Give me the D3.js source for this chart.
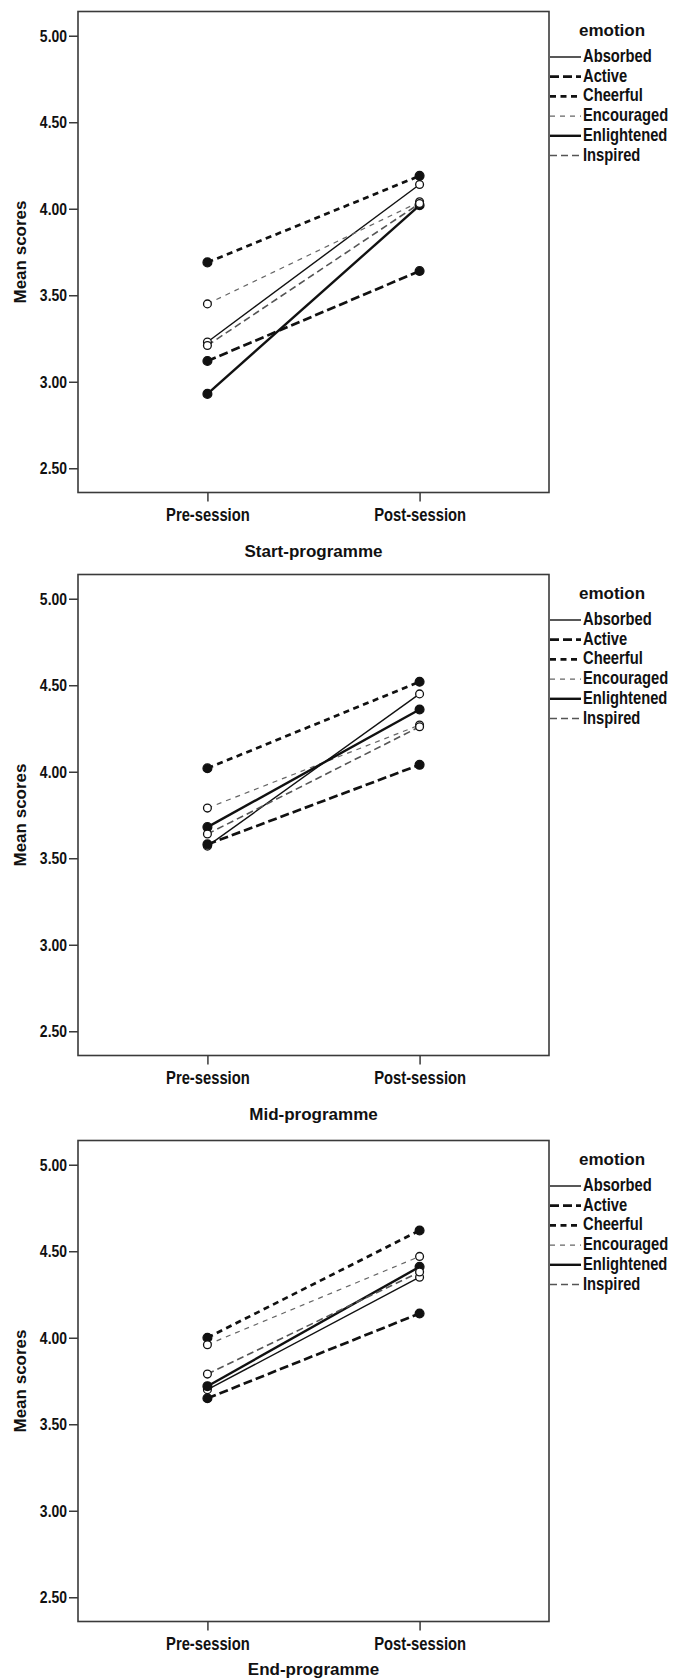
<!DOCTYPE html>
<html>
<head>
<meta charset="utf-8">
<script src="https://cdn.jsdelivr.net/npm/d3@7"></script>
<style>
  body { margin: 0; background: #fff; }
  .narrow { font-family: 'Liberation Sans', Arial, sans-serif; font-weight: bold; }
  .title { font-family: 'Liberation Sans', Arial, sans-serif; font-weight: bold; }
</style>
</head>
<body>
<svg id="chart"></svg>
<script>
const emotions = ['Absorbed', 'Active', 'Cheerful', 'Encouraged', 'Enlightened', 'Inspired'];
const sessions = ['Pre-session', 'Post-session'];
const programmes = ['Start-programme', 'Mid-programme', 'End-programme'];
const yTicks = [2.5, 3.0, 3.5, 4.0, 4.5, 5.0];

// mean scores per emotion, same order as emotions
const startPre  = [3.23, 3.12, 3.69, 3.45, 2.93, 3.21];
const startPost = [4.14, 3.64, 4.19, 4.04, 4.02, 4.03];
const midPre    = [3.57, 3.58, 4.02, 3.79, 3.68, 3.64];
const midPost   = [4.45, 4.04, 4.52, 4.27, 4.36, 4.26];
const endPre    = [3.70, 3.65, 4.00, 3.96, 3.72, 3.79];
const endPost   = [4.35, 4.14, 4.62, 4.47, 4.41, 4.38];

const panelData = [
  [startPre, startPost],
  [midPre, midPost],
  [endPre, endPost]
];

// line style per emotion (SPSS-like)
const styles = {
  Absorbed:    { width: 1.4, dash: null,    color: '#111', filled: false },
  Active:      { width: 2.7, dash: '9,4',   color: '#111', filled: true },
  Cheerful:    { width: 2.7, dash: '6,4.5', color: '#111', filled: true },
  Encouraged:  { width: 1.2, dash: '5,5',   color: '#666', filled: false },
  Enlightened: { width: 2.4, dash: null,    color: '#111', filled: true },
  Inspired:    { width: 1.6, dash: '7,4',   color: '#555', filled: false }
};

const W = 677, H = 1679;
const left = 78, plotW = 471, plotH = 481;
const panelTops = [11.5, 574.5, 1140.5];
const titleGap = [64, 64, 53]; // last panel's title squeezed in at the page bottom

const svg = d3.select('#chart').attr('width', W).attr('height', H);

const x = d3.scalePoint().domain(sessions).range([0, plotW]).padding(0.61);
const y = d3.scaleLinear().domain([2.36, 5.14]).range([plotH, 0]);

// squeeze bold text horizontally to look like a narrow face
function condense(sel, size) {
  sel.attr('class', 'narrow').style('font-size', size + 'px').attr('fill', '#111');
  sel.each(function () {
    const w = this.getComputedTextLength();
    d3.select(this).attr('textLength', w * 0.82).attr('lengthAdjust', 'spacingAndGlyphs');
  });
}

panelData.forEach((pair, p) => {
  const g = svg.append('g').attr('transform', `translate(${left},${panelTops[p]})`);

  // frame
  g.append('rect')
    .attr('width', plotW).attr('height', plotH)
    .attr('fill', 'none').attr('stroke', '#3a3a3a').attr('stroke-width', 1.6);

  // y axis
  const yAxis = g.append('g')
    .call(d3.axisLeft(y).tickValues(yTicks).tickFormat(d3.format('.2f')).tickSize(9).tickPadding(2));
  yAxis.select('.domain').remove();
  yAxis.selectAll('line').attr('stroke', '#3a3a3a').attr('stroke-width', 1.5);
  condense(yAxis.selectAll('text'), 17);

  // x axis
  const xAxis = g.append('g')
    .attr('transform', `translate(0,${plotH})`)
    .call(d3.axisBottom(x).tickSize(9).tickPadding(7));
  xAxis.select('.domain').remove();
  xAxis.selectAll('line').attr('stroke', '#3a3a3a').attr('stroke-width', 1.5);
  condense(xAxis.selectAll('text'), 18);

  // axis titles
  g.append('text')
    .attr('class', 'title')
    .attr('x', plotW / 2).attr('y', plotH + titleGap[p])
    .attr('text-anchor', 'middle')
    .style('font-size', '17px').attr('fill', '#111')
    .text(programmes[p]);

  g.append('text')
    .attr('class', 'title')
    .attr('transform', `translate(${26 - left},${plotH / 2}) rotate(-90)`)
    .attr('text-anchor', 'middle')
    .style('font-size', '17px').attr('fill', '#111')
    .text('Mean scores');

  // lines
  const series = emotions.map((e, i) => ({
    name: e,
    values: sessions.map((s, j) => ({ session: s, value: pair[j][i] }))
  }));

  const line = d3.line().x(d => x(d.session)).y(d => y(d.value));

  g.selectAll('.series')
    .data(series)
    .enter()
    .append('path')
    .attr('d', d => line(d.values))
    .attr('fill', 'none')
    .attr('stroke', d => styles[d.name].color)
    .attr('stroke-width', d => styles[d.name].width)
    .attr('stroke-dasharray', d => styles[d.name].dash);

  // markers
  series.forEach(s => {
    g.selectAll(null)
      .data(s.values)
      .enter()
      .append('circle')
      .attr('cx', d => x(d.session))
      .attr('cy', d => y(d.value))
      .attr('r', styles[s.name].filled ? 4.4 : 3.9)
      .attr('fill', styles[s.name].filled ? '#111' : '#fff')
      .attr('stroke', '#111')
      .attr('stroke-width', 1.3);
  });

  // legend
  const lg = g.append('g').attr('transform', `translate(${plotW},0)`);
  lg.append('text')
    .attr('class', 'title')
    .attr('x', 30).attr('y', 24)
    .style('font-size', '17px').attr('fill', '#111')
    .text('emotion');

  const item = lg.selectAll('.item')
    .data(emotions)
    .enter()
    .append('g')
    .attr('transform', (d, i) => `translate(0,${50.5 + i * 19.7})`);

  item.append('line')
    .attr('x1', 1).attr('x2', 32).attr('y1', -5).attr('y2', -5)
    .attr('stroke', d => styles[d].color)
    .attr('stroke-width', d => styles[d].width)
    .attr('stroke-dasharray', d => styles[d].dash);

  // narrow look via horizontal scale so the box stays inside the page
  item.append('g')
    .attr('transform', 'translate(34,0) scale(0.82,1)')
    .append('text')
    .attr('class', 'narrow')
    .style('font-size', '18px').attr('fill', '#111')
    .text(d => d);
});
</script>
</body>
</html>
